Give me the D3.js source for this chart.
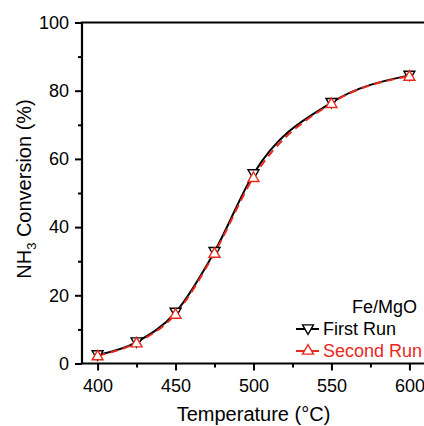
<!DOCTYPE html>
<html>
<head>
<meta charset="utf-8">
<script src="https://cdn.jsdelivr.net/npm/d3@7"></script>
<style>
  body { margin: 0; background: #fff; }
  svg { display: block; font-family: "Liberation Sans", Arial, sans-serif; }
</style>
</head>
<body>
<div id="viz"></div>
<script>
const temps = [400, 425, 450, 475, 500, 550, 600];
const firstRun = [2.5, 6.3, 15.0, 32.8, 55.6, 76.5, 84.5];
const secondRun = [2.3, 6.1, 14.5, 32.4, 54.6, 76.3, 84.3];
const xMajor = [400, 450, 500, 550, 600];
const xMinor = [425, 475, 525, 575];
const yMajor = [0, 20, 40, 60, 80, 100];
const yMinor = [10, 30, 50, 70, 90];

const width = 424;
const height = 426;
const margin = { top: 22.5, right: -1, bottom: 62.5, left: 82 };

const x = d3.scaleLinear().domain([390, 610]).range([margin.left, width - margin.right]);
const y = d3.scaleLinear().domain([0, 100]).range([height - margin.bottom, margin.top]);

const svg = d3.select('#viz').append('svg')
  .attr('width', width)
  .attr('height', height);

const series = [
  { name: 'First Run', values: firstRun, color: '#000', dash: null, sym: d3.symbolTriangle, rot: 180 },
  { name: 'Second Run', values: secondRun, color: '#e8291c', dash: '8,5', sym: d3.symbolTriangle, rot: 0 }
];

const line = d3.line()
  .x((d) => x(d[0]))
  .y((d) => y(d[1]))
  .curve(d3.curveMonotoneX);

// lines
series.forEach((s) => {
  svg.append('path')
    .datum(temps.map((t, i) => [t, s.values[i]]))
    .attr('d', line)
    .attr('fill', 'none')
    .attr('stroke', s.color)
    .attr('stroke-width', 2)
    .attr('stroke-dasharray', s.dash);
});

// markers
const symSize = 52;
series.forEach((s) => {
  svg.append('g').selectAll('path')
    .data(temps.map((t, i) => [t, s.values[i]]))
    .enter().append('path')
      .attr('d', d3.symbol().type(s.sym).size(symSize))
      .attr('transform', (d) => `translate(${x(d[0])},${y(d[1]) + (s.rot ? -1 : 1)}) rotate(${s.rot})`)
      .attr('fill', 'white')
      .attr('stroke', s.color)
      .attr('stroke-width', 1.4);
});

// axes
const fontSize = 18;
const yAxis = svg.append('g').attr('transform', `translate(${margin.left},0)`);
yAxis.append('g')
  .call(d3.axisLeft(y).tickValues(yMajor).tickSize(7).tickSizeOuter(0).tickPadding(6))
  .call((g) => g.select('.domain').remove());
yAxis.append('g')
  .call(d3.axisLeft(y).tickValues(yMinor).tickSize(4).tickFormat(''))
  .call((g) => g.select('.domain').remove());

const xAxis = svg.append('g').attr('transform', `translate(0,${height - margin.bottom})`);
xAxis.append('g')
  .call(d3.axisBottom(x).tickValues(xMajor).tickSize(7).tickSizeOuter(0).tickPadding(9))
  .call((g) => g.select('.domain').remove());
xAxis.append('g')
  .call(d3.axisBottom(x).tickValues(xMinor).tickSize(4).tickFormat(''))
  .call((g) => g.select('.domain').remove());

svg.selectAll('.tick line').attr('stroke', '#000').attr('stroke-width', 2);
svg.selectAll('.tick text')
  .attr('font-size', fontSize)
  .attr('font-family', '"Liberation Sans", Arial, sans-serif')
  .attr('fill', '#000');

// frame: left, bottom, top
svg.append('path')
  .attr('d', `M${x(610) + 2},${y(100)}H${margin.left}V${y(0)}H${x(610) + 2}`)
  .attr('fill', 'none')
  .attr('stroke', '#000')
  .attr('stroke-width', 2.2);

// axis titles
svg.append('text')
  .attr('x', x(500))
  .attr('y', 421)
  .attr('text-anchor', 'middle')
  .attr('font-size', 20)
  .text('Temperature (°C)');

const yt = svg.append('text')
  .attr('transform', `translate(31,${189}) rotate(-90)`)
  .attr('text-anchor', 'middle')
  .attr('font-size', 20);
yt.append('tspan').text('NH');
yt.append('tspan').attr('font-size', 13).attr('dy', 5).text('3');
yt.append('tspan').attr('dy', -5).text(' Conversion (%)');

// legend
const legend = svg.append('g');
legend.append('text')
  .attr('x', 352)
  .attr('y', 312.7)
  .attr('font-size', fontSize)
  .text('Fe/MgO');

series.forEach((s, i) => {
  const ly = 329 + i * 22;
  legend.append('line')
    .attr('x1', 296).attr('x2', 319)
    .attr('y1', ly).attr('y2', ly)
    .attr('stroke', s.color)
    .attr('stroke-width', 2);
  legend.append('path')
    .attr('d', d3.symbol().type(s.sym).size(symSize))
    .attr('transform', `translate(308,${ly + (s.rot ? -1 : 0)}) rotate(${s.rot})`)
    .attr('fill', 'white')
    .attr('stroke', s.color)
    .attr('stroke-width', 1.4);
  legend.append('text')
    .attr('x', 323)
    .attr('y', ly + 5.5)
    .attr('font-size', fontSize)
    .attr('fill', s.color)
    .text(s.name);
});
</script>
</body>
</html>
